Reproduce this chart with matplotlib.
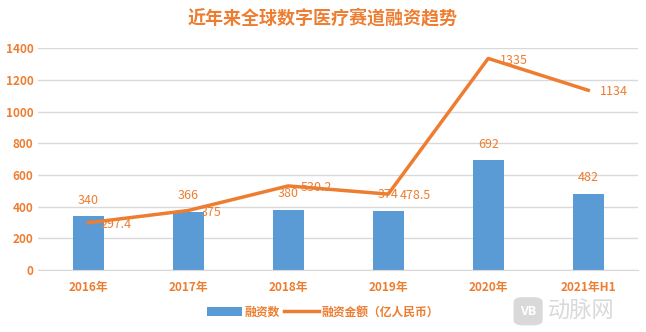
import matplotlib
matplotlib.use("Agg")
import matplotlib.pyplot as plt
from matplotlib.patches import FancyBboxPatch
import numpy as np

plt.rcParams['font.family'] = ['Noto Sans CJK SC', 'DejaVu Sans']

# data
years = ["2016年", "2017年", "2018年", "2019年", "2020年", "2021年H1"]
deal_count = [340, 366, 380, 374, 692, 482]
deal_amount = [297.4, 375, 530.2, 478.5, 1335, 1134]
amount_labels = ["297.4", "375", "530.2", "478.5", "1335", "1134"]

orange = "#ED7D31"
blue = "#5B9BD5"
grid = "#D9D9D9"

fig = plt.figure(figsize=(6.46, 3.32), dpi=100)
ax = fig.add_axes([0.059, 0.187, 0.929, 0.668])

x = np.arange(len(years))
bars = ax.bar(x, deal_count, width=0.31, color=blue, label="融资数", zorder=2)
line, = ax.plot(x, deal_amount, color=orange, lw=2.5, label="融资金额（亿人民币）", zorder=3)

# bar labels above bars
for xi, v in zip(x, deal_count):
    ax.text(xi, v + 60, str(v), ha="center", va="bottom", color=orange,
            fontsize=9, zorder=4)
# line labels to the right of points
for xi, v, s in zip(x, deal_amount, amount_labels):
    ax.text(xi + 0.12, v - 10, s, ha="left", va="center", color=orange,
            fontsize=9, zorder=4)

ax.set_xlim(-0.5, len(years) - 0.5)
ax.set_ylim(0, 1400)
ax.set_yticks(range(0, 1401, 200))
ax.set_xticks(x)
ax.set_xticklabels(years)
ax.grid(axis="y", color=grid, lw=1, zorder=0)
ax.set_axisbelow(True)
for side in ["top", "right", "left"]:
    ax.spines[side].set_visible(False)
ax.spines["bottom"].set_color(grid)
ax.tick_params(axis="both", length=0, colors=orange, labelsize=8.5)
ax.tick_params(axis="x", pad=8)
for lbl in ax.get_xticklabels() + ax.get_yticklabels():
    lbl.set_fontweight("bold")

fig.text(0.5, 0.945, "近年来全球数字医疗赛道融资趋势", ha="center", va="center",
         color=orange, fontsize=13, fontweight="bold")

leg = fig.legend([bars, line], ["融资数", "融资金额（亿人民币）"], loc="center",
                 bbox_to_anchor=(0.5, 0.06), ncol=2, frameon=False,
                 fontsize=8.5, handlelength=3.0, columnspacing=0.3, handletextpad=0.2)
for t in leg.get_texts():
    t.set_color(orange)
    t.set_fontweight("bold")

# watermark
fig.patches.append(FancyBboxPatch((0.795, 0.02), 0.045, 0.085, boxstyle="round,pad=0,rounding_size=0.015",
                                  transform=fig.transFigure, facecolor="#D9D9D9", edgecolor="none"))
fig.text(0.8175, 0.062, "VB", ha="center", va="center", color="white", fontsize=9, fontweight="bold")
fig.text(0.848, 0.062, "动脉网", ha="left", va="center", color="#D9D9D9", fontsize=16)

fig.savefig("out.png", dpi=100)
